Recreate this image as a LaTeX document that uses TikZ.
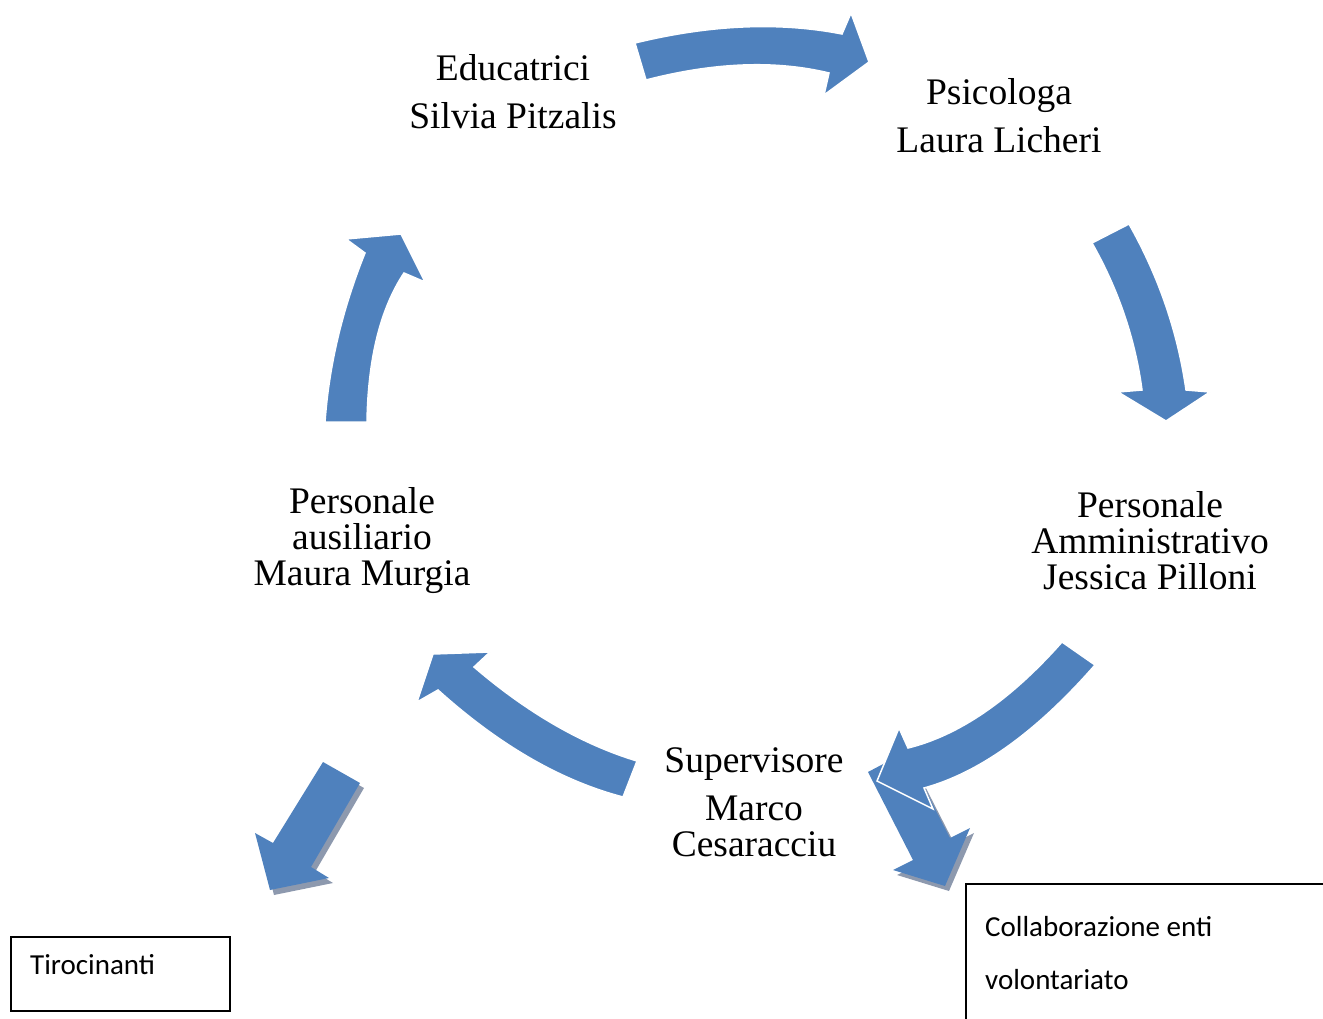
\documentclass[tikz,border=0pt]{standalone}
\usepackage{fontspec}
\setmainfont{Liberation Serif}
\newfontfamily\boxfont{Carlito}
\definecolor{arrowblue}{HTML}{4F81BD}
\definecolor{shadowgray}{HTML}{8D99AE}
\begin{document}
\begin{tikzpicture}[x=1pt,y=-1pt,
  cyc/.style={fill=arrowblue, draw=white, line width=1.5pt, line join=miter},
  straightarr/.style={fill=arrowblue},
  shade/.style={fill=shadowgray},
  lblwide/.style={align=center, font=\fontsize{37.5}{48}\selectfont, inner sep=0pt},
  lbltight/.style={align=center, font=\fontsize{37.5}{36}\selectfont, inner sep=0pt},
  boxlbl/.style={anchor=west, font=\boxfont\fontsize{29}{34}\selectfont, inner sep=0pt},
  frame/.style={draw=black, line width=1.6pt, anchor=north west, inner sep=0pt}]
\useasboundingbox (0,0) rectangle (1323,1019);

% straight arrow to Tirocinanti (shadow + arrow)
\fill[shade, shift={(4,5)}] (323,762) -- (360,783) -- (311,867) -- (329,878) -- (270,890) -- (255,833) -- (273,843) -- cycle;
\fill[straightarr] (323,762) -- (360,783) -- (311,867) -- (329,878) -- (270,890) -- (255,833) -- (273,843) -- cycle;

% straight arrow to Collaborazione (shadow + arrow)
\fill[shade, shift={(4,5)}] (868,772) -- (906,752) -- (950,838) -- (970,828) -- (945,886) -- (893,870) -- (913,860) -- cycle;
\fill[straightarr] (868,772) -- (906,752) -- (950,838) -- (970,828) -- (945,886) -- (893,870) -- (913,860) -- cycle;

% top arrow: Educatrici -> Psicologa
\filldraw[cyc] (635,43) .. controls (710,24.67) and (779,21.67) .. (842,34) -- (851,13) -- (869,62) -- (824,95) -- (829,73)
  .. controls (775.33,60) and (714.33,62.33) .. (646,80) -- cycle;

% right arrow: Psicologa -> Personale Amministrativo
\filldraw[cyc] (1129,224) .. controls (1158.67,276.53) and (1177.67,331.87) .. (1186,390) -- (1210,392) -- (1166,421) -- (1118,392) -- (1142,390)
  .. controls (1135.07,338.47) and (1118.4,289.47) .. (1092,243) -- cycle;

% bottom-right arrow: Personale Amministrativo -> Supervisore
\filldraw[cyc] (1062,642) .. controls (1010.67,700) and (959.33,735.33) .. (908,748) -- (899,728) -- (877,781) -- (933,809) -- (924,788)
  .. controls (979.67,772.67) and (1036.67,731.67) .. (1095,665) -- cycle;

% bottom-left arrow: Supervisore -> Personale ausiliario
\filldraw[cyc] (637,761) .. controls (582,744.33) and (527.67,713) .. (474,667) -- (490,652) -- (433,654) -- (417,702) -- (438,690)
  .. controls (499,745) and (560.67,780.67) .. (623,797) -- cycle;

% left arrow: Personale ausiliario -> Educatrici
\filldraw[cyc] (325,422) .. controls (329,365.67) and (342.33,309.33) .. (365,253) -- (346,239) -- (401,234) -- (425,282) -- (404,273)
  .. controls (380.33,308.67) and (368,358.33) .. (367,422) -- cycle;

% labels
\node[lblwide] (edu) at (513,92) {Educatrici\\Silvia Pitzalis};
\node[lblwide] (psi) at (999,116) {Psicologa\\Laura Licheri};
\node[lbltight] (amm) at (1150,541) {Personale\\Amministrativo\\Jessica Pilloni};
\node[lbltight] (aus) at (362,541) {Personale\\ausiliario\\Maura Murgia};
\node[lbltight] (sup) at (754,802) {Supervisore\\[12pt]Marco\\Cesaracciu};

% boxes
\node[frame, minimum width=219pt, minimum height=74pt] (tirobox) at (10,936) {};
\node[boxlbl] (tiro) at (30,965) {Tirocinanti};
\node[frame, minimum width=380pt, minimum height=160pt] (collabbox) at (965,883) {};
\node[boxlbl] (collab1) at (985,927) {Collaborazione enti};
\node[boxlbl] (collab2) at (985,980) {volontariato};
\end{tikzpicture}
\end{document}
